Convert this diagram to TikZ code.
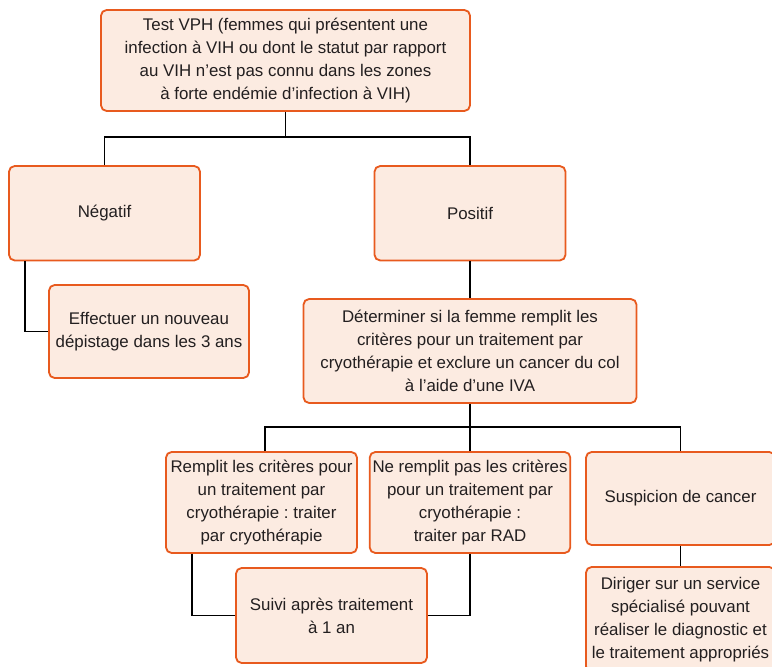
\documentclass[tikz,border=0pt]{standalone}
\usepackage{fontspec}
\setmainfont{Liberation Sans}
\usetikzlibrary{positioning,calc}
\definecolor{vphorange}{HTML}{E85A1E}
\definecolor{vphfill}{HTML}{FCEBE1}
\definecolor{vphtext}{HTML}{231F20}
\frenchspacing

\begin{document}
\begin{tikzpicture}[font=\fontsize{12}{16.5}\selectfont,
    box/.style={rectangle, rounded corners=4pt, draw=vphorange, fill=vphfill,
                line width=1.3pt, align=center, inner sep=2pt, text=vphtext},
    link/.style={line width=0.9pt, black}]

\useasboundingbox (0,0) rectangle (19.3,16.675);

% Test at the top
\node[box, minimum width=9.225cm, minimum height=2.525cm] (test) at (7.1375, 15.1625)
  {Test VPH (femmes qui présentent une\\infection à VIH ou dont le statut par rapport\\au VIH n’est pas connu dans les zones\\à forte endémie d’infection à VIH)};

% Results
\node[box, minimum width=4.775cm, minimum height=2.36cm] (neg) at (2.6125, 11.344) {Négatif};
\node[box, minimum width=4.775cm, minimum height=2.36cm] (pos) at (11.75, 11.344) {Positif};

% Negative branch
\node[box, minimum width=5.0cm, minimum height=2.325cm] (rescreen) at (3.725, 8.3875)
  {Effectuer un nouveau\\dépistage dans les 3 ans};

% Positive branch
\node[box, minimum width=8.325cm, minimum height=2.6cm] (assess) at (11.75, 7.9)
  {Déterminer si la femme remplit les\\critères pour un traitement par\\cryothérapie et exclure un cancer du col\\à l’aide d’une IVA};

\node[box, minimum width=4.775cm, minimum height=2.525cm] (cryo) at (6.5375, 4.1125)
  {Remplit les critères pour\\un traitement par\\cryothérapie : traiter\\par cryothérapie};
\node[box, minimum width=5.0cm, minimum height=2.525cm] (rad) at (11.75, 4.1125)
  {Ne remplit pas les critères\\pour un traitement par\\cryothérapie :\\traiter par RAD};
\node[box, minimum width=4.725cm, minimum height=2.325cm] (cancer) at (17.0125, 4.2125)
  {Suspicion de cancer};

\node[box, minimum width=4.775cm, minimum height=2.375cm] (followup) at (8.2875, 1.2875)
  {Suivi après traitement\\à 1 an};
\node[box, minimum width=4.725cm, minimum height=2.625cm] (refer) at (17.0125, 1.1875)
  {Diriger sur un service\\spécialisé pouvant\\réaliser le diagnostic et\\le traitement appropriés};

% Connectors
\coordinate (split) at (0, 13.25);
\coordinate (fork) at (0, 6.0);

\draw[link] (test.south) -- (test.south |- split);
\draw[link] (neg.north) -- (neg.north |- split) -- (pos.north |- split) -- (pos.north);
\draw[link] ([xshift=0.425cm]neg.south west) |- (rescreen.west);

\draw[link] (pos.south) -- (assess.north);
\draw[link] (assess.south) -- (rad.north);
\draw[link] ([xshift=0.09cm]cryo.north) -- ([xshift=0.09cm]cryo.north |- fork)
  -- (cancer.north |- fork) -- (cancer.north);

\draw[link] ([xshift=0.675cm]cryo.south west) |- (followup.west);
\draw[link] (rad.south) |- (followup.east);
\draw[link] (cancer.south) -- (refer.north);

\end{tikzpicture}
\end{document}
